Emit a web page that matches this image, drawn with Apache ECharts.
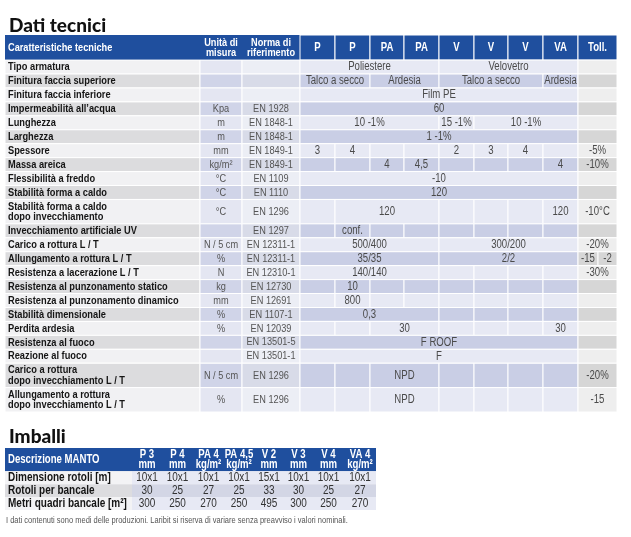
<!DOCTYPE html>
<html>
<head>
<meta charset="utf-8">
<script src="https://cdn.jsdelivr.net/npm/echarts@6/dist/echarts.min.js"></script>
<style>
  html, body { margin: 0; padding: 0; background: #fff; }
  #chart { width: 631px; height: 537px; }
</style>
</head>
<body>
<div id="chart"></div>
<script>
// ---- data: Dati tecnici ----
const productHeads = ['P', 'P', 'PA', 'PA', 'V', 'V', 'V', 'VA'];
const rowLabels = [
  'Tipo armatura',
  'Finitura faccia superiore',
  'Finitura faccia inferiore',
  'Impermeabilità all\u2019acqua',
  'Lunghezza',
  'Larghezza',
  'Spessore',
  'Massa areica',
  'Flessibilità a freddo',
  'Stabilità forma a caldo',
  'Stabilità forma a caldo\ndopo invecchiamento',
  'Invecchiamento artificiale UV',
  'Carico a rottura L / T',
  'Allungamento a rottura L / T',
  'Resistenza a lacerazione L / T',
  'Resistenza al punzonamento statico',
  'Resistenza al punzonamento dinamico',
  'Stabilità dimensionale',
  'Perdita ardesia',
  'Resistenza al fuoco',
  'Reazione al fuoco',
  'Carico a rottura\ndopo invecchiamento L / T',
  'Allungamento a rottura\ndopo invecchiamento L / T'
];
const units = ['', '', '', 'Kpa', 'm', 'm', 'mm', 'kg/m²', '°C', '°C', '°C', '', 'N / 5 cm', '%', 'N', 'kg', 'mm', '%', '%', '', '', 'N / 5 cm', '%'];
const norms = ['', '', '', 'EN 1928', 'EN 1848-1', 'EN 1848-1', 'EN 1849-1', 'EN 1849-1', 'EN 1109', 'EN 1110', 'EN 1296', 'EN 1297',
  'EN 12311-1', 'EN 12311-1', 'EN 12310-1', 'EN 12730', 'EN 12691', 'EN 1107-1', 'EN 12039', 'EN 13501-5', 'EN 13501-1', 'EN 1296', 'EN 1296'];
// [span over product columns, text]
const valueCells = [
  [[4, 'Poliestere'], [4, 'Velovetro']],
  [[2, 'Talco a secco'], [2, 'Ardesia'], [3, 'Talco a secco'], [1, 'Ardesia']],
  [[8, 'Film PE']],
  [[8, '60']],
  [[4, '10 -1%'], [1, '15 -1%'], [3, '10 -1%']],
  [[8, '1 -1%']],
  [[1, '3'], [1, '4'], [1, ''], [1, ''], [1, '2'], [1, '3'], [1, '4'], [1, '']],
  [[1, ''], [1, ''], [1, '4'], [1, '4,5'], [1, ''], [1, ''], [1, ''], [1, '4']],
  [[8, '-10']],
  [[8, '120']],
  [[1, ''], [3, '120'], [1, ''], [1, ''], [1, ''], [1, '120']],
  [[1, ''], [1, 'conf.'], [1, ''], [1, ''], [1, ''], [1, ''], [1, ''], [1, '']],
  [[4, '500/400'], [4, '300/200']],
  [[4, '35/35'], [4, '2/2']],
  [[4, '140/140'], [1, ''], [1, ''], [1, ''], [1, '']],
  [[1, ''], [1, '10'], [1, ''], [1, ''], [1, ''], [1, ''], [1, ''], [1, '']],
  [[1, ''], [1, '800'], [1, ''], [1, ''], [1, ''], [1, ''], [1, ''], [1, '']],
  [[4, '0,3'], [1, ''], [1, ''], [1, ''], [1, '']],
  [[1, ''], [1, ''], [2, '30'], [1, ''], [1, ''], [1, ''], [1, '30']],
  [[8, 'F ROOF']],
  [[8, 'F']],
  [[1, ''], [1, ''], [2, 'NPD'], [1, ''], [1, ''], [1, ''], [1, '']],
  [[1, ''], [1, ''], [2, 'NPD'], [1, ''], [1, ''], [1, ''], [1, '']]
];
const tolerances = ['', '', '', '', '', '', '-5%', '-10%', '', '', '-10°C', '', '-20%', ['-15', '-2'], '-30%', '', '', '', '', '', '', '-20%', '-15'];

// ---- data: Imballi ----
const packCodes = ['P 3', 'P 4', 'PA 4', 'PA 4,5', 'V 2', 'V 3', 'V 4', 'VA 4'];
const packUnits = ['mm', 'mm', 'kg/m²', 'kg/m²', 'mm', 'mm', 'mm', 'kg/m²'];
const packRows = ['Dimensione rotoli [m]', 'Rotoli per bancale', 'Metri quadri bancale [m²]'];
const rollSize = ['10x1', '10x1', '10x1', '10x1', '15x1', '10x1', '10x1', '10x1'];
const rollsPerPallet = [30, 25, 27, 25, 33, 30, 25, 27];
const sqmPerPallet = [300, 250, 270, 250, 495, 300, 250, 270];
const footnote = 'I dati contenuti sono medi delle produzioni. Laribit si riserva di variare senza preavviso i valori nominali.';

// ---- layout ----
// no narrow font installed: squeeze Liberation Sans horizontally
const FONT = "'Liberation Sans', Arial, sans-serif";
const SQUEEZE = 0.8;
const BLUE = '#1f4f9e';
const mainColW = [195, 42, 58, 35, 35, 34, 35, 35, 34, 35, 35, 20, 19];
const packColW = [127, 30, 31, 31, 30, 30, 29, 31, 32];

function edges(ws) {
  const e = [0];
  ws.forEach(function (w) { e.push(e[e.length - 1] + w); });
  return e;
}
const mainX = edges(mainColW);
const mainY = edges([1.8].concat(rowLabels.map(function (l) { return l.indexOf('\n') >= 0 ? 1.75 : 1; })));
const packX = edges(packColW);
const packY = edges([1.8, 1, 1, 1]);

const styles = {
  headBlock: { fill: [BLUE, BLUE], stroke: null, color: '#fff', weight: 'bold', size: 11.5 },
  head: { fill: [BLUE, BLUE], stroke: '#fff', color: '#fff', weight: 'bold', size: 12 },
  label: { fill: ['#f1f1f3', '#dcdcde'], stroke: '#fff', color: '#151515', weight: 'bold', size: 11.6 },
  unit: { fill: ['#e4e6f2', '#d0d4e8'], stroke: '#fff', color: '#555', weight: 'normal', size: 11.5 },
  norm: { fill: ['#eceef5', '#d8dbe8'], stroke: '#fff', color: '#555', weight: 'normal', size: 11.5 },
  val: { fill: ['#e7e9f4', '#c9cee5'], stroke: '#fff', color: '#4a4a4a', weight: 'normal', size: 12 },
  toll: { fill: ['#eeeeee', '#d6d6d6'], stroke: '#fff', color: '#4a4a4a', weight: 'normal', size: 12 },
  plabel: { fill: ['#f3f3f5', '#dcdcdf'], stroke: null, color: '#151515', weight: 'bold', size: 12.5 },
  pval: { fill: ['#e7e9f4', '#d3d6e5'], stroke: null, color: '#333', weight: 'normal', size: 12.5 },
  phead: { fill: [BLUE, BLUE], stroke: null, color: '#fff', weight: 'bold', size: 12 }
};

function makeCells(xs, ys) {
  const list = [];
  return {
    list: list,
    add: function (c0, c1, r0, r1, text, kind, align, parity, noBg) {
      list.push({ value: [xs[c0], ys[r0], xs[c1], ys[r1]], text: text, kind: kind, align: align || 'center', parity: parity || 0, noBg: !!noBg });
    }
  };
}

// main table cells
const main = makeCells(mainX, mainY);
main.add(0, 3, 0, 1, '', 'headBlock');
main.add(0, 1, 0, 1, 'Caratteristiche tecniche', 'headBlock', 'left', 0, true);
main.add(1, 2, 0, 1, 'Unità di\nmisura', 'headBlock', 'center', 0, true);
main.add(2, 3, 0, 1, 'Norma di\nriferimento', 'headBlock', 'center', 0, true);
productHeads.forEach(function (t, i) { main.add(3 + i, 4 + i, 0, 1, t, 'head'); });
main.add(11, 13, 0, 1, 'Toll.', 'head');
rowLabels.forEach(function (lab, i) {
  const r = i + 1, p = i % 2;
  main.add(0, 1, r, r + 1, lab, 'label', 'left', p);
  main.add(1, 2, r, r + 1, units[i], 'unit', 'center', p);
  main.add(2, 3, r, r + 1, norms[i], 'norm', 'center', p);
  let c = 3;
  valueCells[i].forEach(function (cell) {
    main.add(c, c + cell[0], r, r + 1, cell[1], 'val', 'center', p);
    c += cell[0];
  });
  const tol = tolerances[i];
  if (Array.isArray(tol)) {
    main.add(11, 12, r, r + 1, tol[0], 'toll', 'center', p);
    main.add(12, 13, r, r + 1, tol[1], 'toll', 'center', p);
  } else {
    main.add(11, 13, r, r + 1, tol, 'toll', 'center', p);
  }
});

// packaging table cells
const pack = makeCells(packX, packY);
pack.add(0, 9, 0, 1, '', 'phead');
pack.add(0, 1, 0, 1, 'Descrizione MANTO', 'phead', 'left', 0, true);
packCodes.forEach(function (t, i) { pack.add(1 + i, 2 + i, 0, 1, t + '\n' + packUnits[i], 'phead', 'center', 0, true); });
[rollSize, rollsPerPallet, sqmPerPallet].forEach(function (vals, j) {
  const r = j + 1, p = j % 2;
  pack.add(0, 1, r, r + 1, packRows[j], 'plabel', 'left', p);
  pack.add(1, 9, r, r + 1, '', 'pval', 'center', p);
  vals.forEach(function (v, i) { pack.add(1 + i, 2 + i, r, r + 1, String(v), 'pval', 'center', p, true); });
});

function renderer(cells) {
  return function (params, api) {
    const cell = cells[params.dataIndex];
    const st = styles[cell.kind];
    const a = api.coord([api.value(0), api.value(1)]);
    const b = api.coord([api.value(2), api.value(3)]);
    const children = [];
    if (!cell.noBg) {
      children.push({
        type: 'rect',
        shape: { x: a[0], y: a[1], width: b[0] - a[0], height: b[1] - a[1] },
        style: { fill: st.fill[cell.parity], stroke: st.stroke || 'none', lineWidth: st.stroke ? 1 : 0 }
      });
    }
    if (cell.text !== '') {
      const tx = cell.align === 'left' ? a[0] + 3 : (a[0] + b[0]) / 2;
      children.push({
        type: 'text',
        x: tx, y: (a[1] + b[1]) / 2, scaleX: SQUEEZE,
        style: {
          text: cell.text, x: 0, y: 0,
          align: cell.align, verticalAlign: 'middle',
          fontFamily: FONT, fontSize: st.size, fontWeight: st.weight,
          lineHeight: st.size * 0.9, fill: st.color
        }
      });
    }
    return { type: 'group', children: children };
  };
}

const chart = echarts.init(document.getElementById('chart'), null, { renderer: 'canvas' });
const hiddenAxis = function (idx, max, inverse) {
  return { type: 'value', gridIndex: idx, min: 0, max: max, inverse: !!inverse, show: false };
};
chart.setOption({
  backgroundColor: '#fff',
  animation: false,
  title: [
    { text: 'Dati tecnici', left: 4, top: 11, textStyle: { fontFamily: 'Lato', fontWeight: 900, fontSize: 19, color: '#111' } },
    { text: 'Imballi', left: 4, top: 422, textStyle: { fontFamily: 'Lato', fontWeight: 900, fontSize: 19, color: '#111' } }
  ],
  graphic: [{
    type: 'text', left: 6, top: 516, scaleX: SQUEEZE, silent: true,
    style: { text: footnote, fontFamily: FONT, fontSize: 9.4, fill: '#555' }
  }],
  grid: [
    { left: 5, top: 35, width: 612, height: 377 },
    { left: 5, top: 448, width: 371, height: 62 }
  ],
  xAxis: [hiddenAxis(0, mainX[mainX.length - 1]), hiddenAxis(1, packX[packX.length - 1])],
  yAxis: [hiddenAxis(0, mainY[mainY.length - 1], true), hiddenAxis(1, packY[packY.length - 1], true)],
  series: [
    {
      type: 'custom', xAxisIndex: 0, yAxisIndex: 0, clip: false, silent: true,
      encode: { x: [0, 2], y: [1, 3] },
      renderItem: renderer(main.list), data: main.list.map(function (c) { return c.value; })
    },
    {
      type: 'custom', xAxisIndex: 1, yAxisIndex: 1, clip: false, silent: true,
      encode: { x: [0, 2], y: [1, 3] },
      renderItem: renderer(pack.list), data: pack.list.map(function (c) { return c.value; })
    }
  ]
});
</script>
</body>
</html>
